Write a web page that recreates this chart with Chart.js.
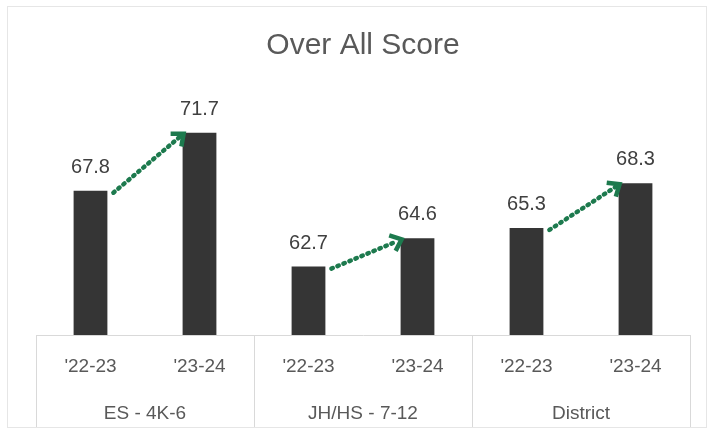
<!DOCTYPE html>
<html>
<head>
<meta charset="utf-8">
<script src="https://cdn.jsdelivr.net/npm/chart.js@4.4.1/dist/chart.umd.min.js"></script>
<style>
  html, body { margin: 0; padding: 0; background: #fff; }
  #wrap { width: 709px; height: 437px; position: relative; }
</style>
</head>
<body>
<div id="wrap"><canvas id="scoreChart"></canvas></div>
<script>
const years = ["'22-23", "'23-24", "'22-23", "'23-24", "'22-23", "'23-24"];
const groups = ['ES - 4K-6', 'JH/HS - 7-12', 'District'];
const scores = [67.8, 71.7, 62.7, 64.6, 65.3, 68.3];

const FONT = "'Liberation Sans', Arial, sans-serif";
const GREEN = '#1d7a4e';

// outer frame, group separators and group names
const framePlugin = {
    id: 'frame',
    beforeDraw(chart) {
        const ctx = chart.ctx;
        ctx.save();
        ctx.strokeStyle = '#e6e6e6';
        ctx.lineWidth = 1;
        ctx.strokeRect(7.5, 6.5, 699, 421);
        ctx.restore();
    },
    afterDraw(chart) {
        const ctx = chart.ctx;
        const x = chart.scales.x;
        const step = x.getPixelForValue(1) - x.getPixelForValue(0);
        const top = chart.chartArea.bottom;
        ctx.save();
        ctx.strokeStyle = '#d9d9d9';
        ctx.lineWidth = 1;
        for (let k = 0; k <= groups.length; k++) {
            const px = Math.round(x.getPixelForValue(0) - step / 2 + k * 2 * step) + 0.5;
            ctx.beginPath();
            ctx.moveTo(px, top);
            ctx.lineTo(px, 427);
            ctx.stroke();
        }
        ctx.fillStyle = '#595959';
        ctx.font = '19px ' + FONT;
        ctx.textAlign = 'center';
        ctx.textBaseline = 'alphabetic';
        groups.forEach((g, i) => {
            const cx = (x.getPixelForValue(2 * i) + x.getPixelForValue(2 * i + 1)) / 2;
            ctx.fillText(g, cx, 419);
        });
        ctx.restore();
    }
};

// value labels and the dotted arrows between years
const markPlugin = {
    id: 'marks',
    afterDatasetsDraw(chart) {
        const ctx = chart.ctx;
        const bars = chart.getDatasetMeta(0).data;
        ctx.save();
        ctx.fillStyle = '#404040';
        ctx.font = '20px ' + FONT;
        ctx.textAlign = 'center';
        ctx.textBaseline = 'alphabetic';
        bars.forEach((bar, i) => {
            ctx.fillText(scores[i].toFixed(1), bar.x, bar.y - 18);
        });

        for (let i = 0; i < bars.length; i += 2) {
            const a = bars[i], b = bars[i + 1];
            const x1 = a.x + a.width / 2 + 6, y1 = a.y + 2;
            const x2 = b.x - b.width / 2 + 1, y2 = b.y + 1;
            const ang = Math.atan2(y2 - y1, x2 - x1);
            ctx.strokeStyle = GREEN;
            ctx.lineCap = 'round';
            ctx.lineWidth = 4.5;
            ctx.setLineDash([1.5, 5]);
            ctx.beginPath();
            ctx.moveTo(x1, y1);
            ctx.lineTo(x2 - 5 * Math.cos(ang), y2 - 5 * Math.sin(ang));
            ctx.stroke();
            ctx.setLineDash([]);
            ctx.lineWidth = 4.5;
            ctx.lineCap = 'butt';
            ctx.lineJoin = 'miter';
            const len = 13, spread = 0.7;
            ctx.beginPath();
            ctx.moveTo(x2 - len * Math.cos(ang - spread), y2 - len * Math.sin(ang - spread));
            ctx.lineTo(x2, y2);
            ctx.lineTo(x2 - len * Math.cos(ang + spread), y2 - len * Math.sin(ang + spread));
            ctx.stroke();
        }
        ctx.restore();
    }
};

const ctx = document.getElementById('scoreChart').getContext('2d');
const scoreChart = new Chart(ctx, {
    type: 'bar',
    data: {
        labels: years,
        datasets: [{
            label: 'Over All Score',
            data: scores,
            backgroundColor: '#353535',
            barPercentage: 0.31,
            categoryPercentage: 1
        }]
    },
    options: {
        responsive: true,
        maintainAspectRatio: false,
        animation: false,
        layout: { padding: { left: 36, right: 19, top: 8, bottom: 0 } },
        plugins: {
            legend: { display: false },
            tooltip: { enabled: false },
            title: {
                display: true,
                text: 'Over All Score',
                color: '#595959',
                font: { family: FONT, size: 30, weight: 'normal' },
                padding: { top: 20, bottom: 33 }
            }
        },
        scales: {
            x: {
                grid: { display: false },
                border: { display: true, color: '#d9d9d9' },
                ticks: {
                    color: '#595959',
                    font: { family: FONT, size: 19 },
                    padding: 12,
                    maxRotation: 0
                },
                afterFit(scale) { scale.height = 102; }
            },
            y: {
                display: false,
                min: 58.1,
                max: 74.1
            }
        }
    },
    plugins: [framePlugin, markPlugin]
});
</script>
</body>
</html>
